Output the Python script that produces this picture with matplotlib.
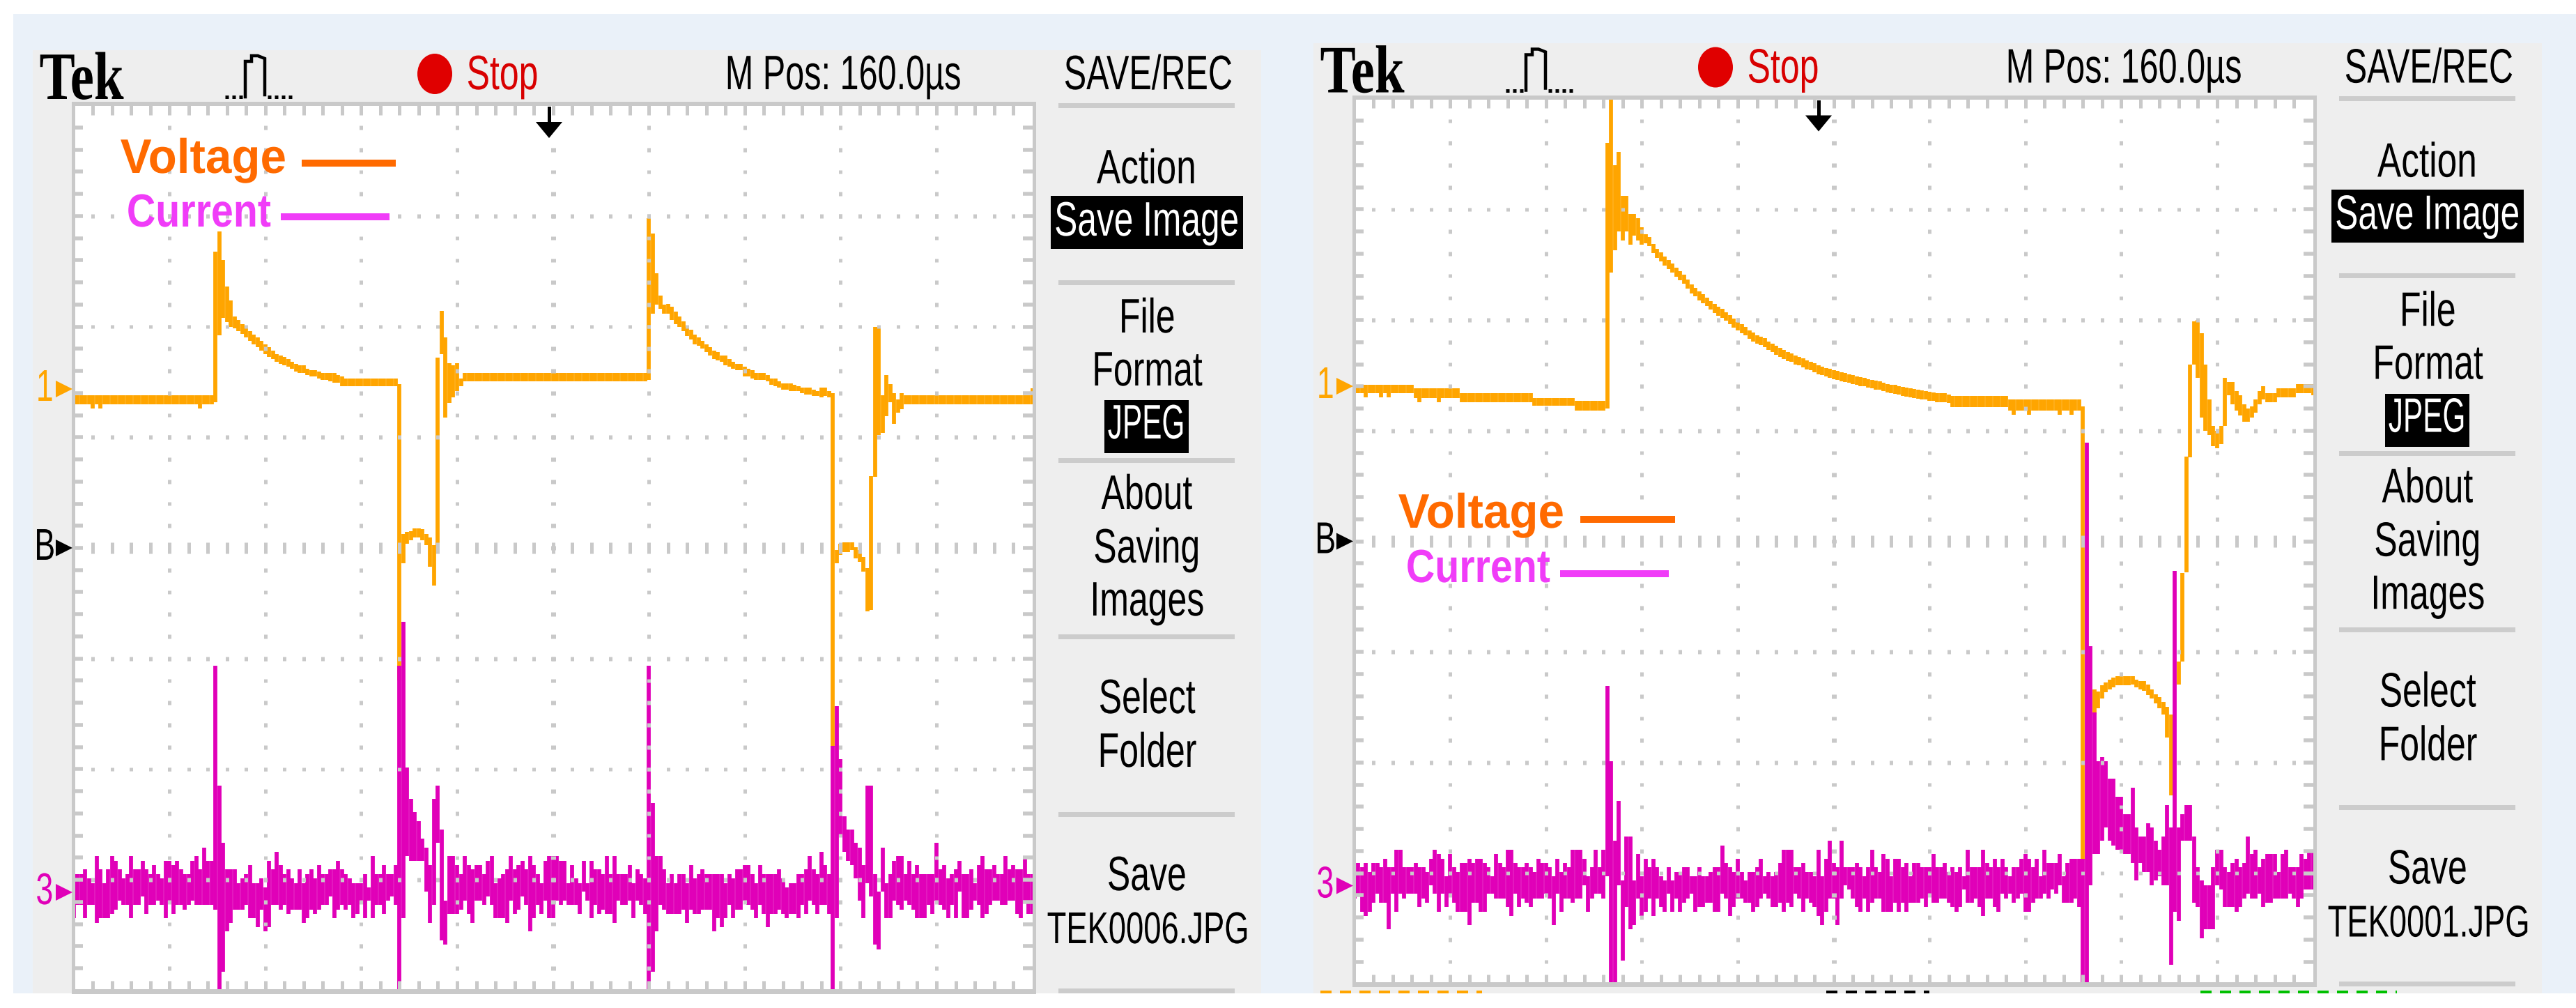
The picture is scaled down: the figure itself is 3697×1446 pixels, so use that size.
import numpy as np
import matplotlib
matplotlib.use("Agg")
import matplotlib.pyplot as plt
import matplotlib.patheffects as pe
from matplotlib.transforms import Affine2D
from matplotlib.patches import Rectangle, Ellipse, Polygon

# Trace data, read column by column from the scope display.
# One column = 1/25 division horizontally, one level = 1/25 division vertically.
# Current values are relative to the channel 3 ground marker.
CUR_L_HI = [4,4,4,5,3,2,8,5,2,5,8,7,5,3,4,8,5,5,7,5,4,6,4,3,7,7,6,7,5,4,4,7,8,5,10,7,7,51,24,11,
 5,5,5,2,3,4,6,2,2,3,1,7,5,9,6,4,5,3,2,5,2,4,5,3,6,4,4,5,5,7,5,4,3,2,2,2,4,1,8,4,
 4,6,4,4,6,51,61,28,21,18,16,12,10,6,21,24,14,-2,8,8,6,4,8,6,5,6,6,4,7,8,2,3,4,5,8,5,6,7,5,8,
 6,4,2,7,8,8,8,7,7,2,6,3,2,7,2,7,5,5,4,8,4,8,4,4,4,6,2,5,4,3,51,20,8,8,5,2,4,2,4,4,
 2,6,3,4,5,4,4,4,4,4,2,4,3,5,5,6,6,4,2,6,4,4,4,4,5,3,1,2,2,4,4,5,8,5,4,9,6,4,33,42,
 30,17,14,14,11,10,6,24,24,4,0,10,2,4,7,8,8,4,7,4,6,4,4,4,4,11,5,6,3,4,5,7,4,4,5,2,6,8,5,5,
 6,4,4,8,5,6,5,5,8,4,4]
CUR_L_LO = [-6,-3,-3,-6,-3,-3,-7,-6,-6,-6,-5,-4,-2,-3,-3,-6,-3,-3,-1,-5,-3,-3,-2,-3,-6,-2,-5,-3,-3,-4,-3,-2,-3,-3,-3,-3,-3,-4,-22,-18,
 -9,-7,-4,-4,-4,-3,-6,-6,-8,-4,-9,-8,-3,-3,-4,-3,-5,-4,-4,-4,-7,-6,-4,-5,-4,-3,-3,-1,-6,-4,-3,-4,-3,-6,-5,-2,-6,-2,-6,-3,
 -3,-5,-2,-1,-3,-22,-6,8,7,7,7,7,0,-7,-3,11,-11,-12,-5,-5,-5,-4,-2,-5,-7,-2,-2,-3,-1,-3,-6,-6,-6,-7,-2,-5,-4,-1,-3,-9,
 -6,-3,-5,-2,-6,-6,-2,-3,-2,-3,-3,-3,-5,0,-2,-6,-3,-5,-4,-5,-5,-7,-2,-3,-3,-2,-6,-2,-3,-5,-22,-18,-9,-3,-4,-5,-5,-5,-5,-4,
 -7,-4,-5,-5,-4,-4,-4,-9,-6,-8,-6,-3,-6,-4,-4,-2,-3,-4,-6,-3,-5,-8,-5,-5,-4,-5,-6,-5,-5,-6,-3,-5,-2,-3,-5,-3,-3,-5,-22,-6,
 13,9,7,6,3,-2,-6,2,-1,-12,-13,0,-6,-6,-2,-3,-4,-2,-3,-4,-6,-6,-6,-3,-5,-2,-3,-4,-6,-3,-6,0,-6,-6,-4,-2,-3,-6,-5,-3,-2,
 -2,-3,-3,-2,-2,-5,-6,-2,-5,-5]

CUR_R_HI = [2,5,4,5,3,5,5,4,6,4,4,8,8,4,4,4,5,4,4,3,6,8,7,6,2,7,4,3,5,5,6,5,6,6,5,4,2,7,5,4,
 8,8,5,4,4,5,4,3,6,5,5,4,2,6,3,5,4,8,8,8,6,2,4,8,4,8,45,28,10,19,1,11,11,1,7,2,6,4,6,4,
 2,1,4,1,3,3,4,4,2,2,4,2,2,3,4,4,9,5,4,3,6,3,1,3,3,4,6,2,3,2,3,5,8,8,8,4,4,5,3,3,
 2,8,2,6,10,5,4,10,4,4,4,5,4,2,4,8,4,3,7,6,2,6,6,4,5,2,5,5,4,4,4,7,4,4,5,3,4,3,4,2,
 8,4,4,4,8,5,4,6,4,6,4,2,4,4,6,7,6,4,6,2,8,5,5,5,7,2,5,6,6,6,6,100,54,39,28,29,28,24,24,20,
 20,16,16,22,13,11,11,14,13,10,8,11,18,13,71,13,16,18,18,11,4,1,0,0,4,8,8,4,3,5,6,4,5,11,7,8,4,6,7,7,
 7,3,7,8,4,4,4,7,6,8,8]
CUR_R_LO = [-3,-2,-6,-7,-6,-4,-2,-4,-4,-10,-2,-6,-2,-3,-2,-2,-2,-5,-3,-4,0,-2,-6,-2,-5,-2,-4,-6,-6,-6,-9,-4,-4,-6,-6,-2,-2,-3,-3,-3,
 -5,-7,-2,-5,-3,-4,-5,-3,-3,-3,-2,-3,-9,-2,-6,-3,-3,-4,-3,-3,0,-6,-3,-2,-2,-3,2,-22,-22,0,-17,-5,-10,-9,-3,-7,-6,-3,-7,-3,
 -5,-6,-2,-6,-3,-6,-4,-3,-2,-6,-5,-5,-4,-4,-6,-6,-2,-3,-7,-5,-3,-3,-4,-4,-6,-5,-3,-2,-3,-5,-5,-4,-6,-4,-5,-2,-3,-6,-3,-4,
 -5,-7,-9,-6,-3,-3,-9,-3,0,-1,-3,-5,-6,-3,-6,-4,-3,-3,-6,-6,-6,-4,-6,-4,-6,-4,-4,-4,-3,-5,-2,-4,-4,-3,-3,-4,-5,-6,-5,-1,
 -4,-4,-3,-5,-7,-3,-3,-5,-6,-2,-3,-2,-4,-3,-2,-6,-6,-4,-3,-3,-2,-3,-1,-2,0,-4,-4,-4,-3,-5,-22,-22,0,7,7,10,13,10,9,8,
 8,7,7,5,1,5,3,3,0,1,2,0,0,-18,-6,-8,10,10,10,-4,-5,-12,-10,-10,-10,0,-1,-5,-5,-5,-6,-5,-3,-2,-3,-3,-2,-5,-4,-4,
 -3,-3,-3,-3,-2,-3,-5,-3,-1,-1,-1]

# Voltage values are levels above the centre of the screen.
VOLT_L_HI = ([34.5]*37 + [67,71.5,65,59,56,52.3,51.5,50.5,49.7,49,48.2,47.5,46.8,46,45.3,44.6,43.8,43.5,43.1,42.7,
 42,41.6,41.3,41.3,40.5,40.2,40.2,39.8,39.5,39.5,39.5,39.5,39,38.7,38.3] + [38.3]*13 +
 [37,3.1,3.7,3.8,4.4,4.4,4.2,3.1,2.4,0.6,43,53.5,47.5,41.7,41.3,41.7,38.3] + [39.5]*48 +
 [74.5,71,62,57,55,55.2,54.5,53.4,52.3,51.2,50,49.3,48.2,47.5,46.8,46,45.3,44.6,44.2,43.5,43.5,42.7,42,41.6,41.6,
  40.9,40.5,40.2,39.5,39.5,39.5,39,38.3,38.3,37.6,37.2,37.2,37.2,36.9,36.5,36.2,36.2,36.2,35.8,35.4,36.2,36.2,35.4,35,
  -0.5,0.9,1.3,1.3,1.3,0.2,-0.5,-2,-4.5,16.3,50,50,34.5,39,37,35,33.6,35,34.5] + [34.5]*32 + [36])
VOLT_L_LO = ([32.5,32.5,32.5,32.5,32.5,31.5,32.5,31.5] + [32.5]*25 + [31.5,32.5,32.5,32.5] +
 [33,48,52,51,50,49.7,49,48.3,47.5,46.8,46,45.3,44.6,43.8,43.1,42.7,42,41.6,41.3,40.9,
 40.5,39.8,39.5,39.5,39,38.7,38.7,38.3,38,38,37.6,37.3,37.3,36.6,36.6] + [36.6]*13 +
 [-30,-3.4,1,1.7,2.4,2.4,1.7,0.6,-4.2,-8.5,0.6,43.8,29.5,32.8,34,35.4,36.6] + [37.7]*48 +
 [38,53,55,54,53,53,51.5,50.5,50,49,47.9,47.1,46,45.7,45,44.2,43.5,42.7,42.4,42,41.3,40.9,40.5,40.2,40.2,
  38.7,38.7,38.3,38,38,38,37.6,36.9,36.6,36.2,35.8,35.8,35.4,35.4,35.4,35,34.7,34.7,34.3,34.3,34,34.3,34,-45,
  -3.5,-1.6,-0.9,-0.9,-0.5,-2.4,-3.1,-5.3,-14.4,-14,16,25.5,26,29.8,33,28,30.5,31.3,32.5] + [32.5]*32 + [32.5])

VOLT_R_HI = ([35.4]*16 + [34.6]*12 + [33.4]*19 + [32.4]*11 + [31.7]*8 +
 [90,100,85,88,78,78,74,74,73,71,69.4,68.7,67.2,66.1,65.3,64.3,63.5,62.8,61.8,61,60.2,59.1,58,57.3,56.5,55.8,55.1,54.3,53.6,53,
  52.5,51.8,51.1,50.3,49.6,49.1,48.5,47.7,47.2,46.6,46.3,45.9,45.2,44.7,44.2,43.7,43.2,42.8,42.5,42,41.7,41.3,40.9,40.6,40.2,39.8,39.5,39.2,39,38.7,
  38.5,38.2,38,37.8,37.5,37.3,37.1,37,36.7,36.5,36.3,36.2,35.9,35.6,35.4,35.3,35.1,34.9,34.7,34.5,34.4,34.2,34.1,34,33.8,33.7,33.5,33.4,33.4,33.2] +
 [32.9]*15 + [32]*19 + [30.5,100,54.0,-33.4,-34,-32.6,-31.9,-31.2,-30.8,-30.5,-30.5,-30.5,-30.5,-30.5,-31.2,-31.6,-31.6,-32.3,-33.4,-34.5,-35.2,-36.3,-37.4,-39.2,
 -32,-27.2,-7.1,19.2,40,49.7,50,47,40,32,26,25,26,37,36,36,34,33,31,30,30.5,32,34,35,33.5,33.5,33.5,34.5,34.5,34.5,34.5,34.5,35.5,35.5,35.5,35.5,35.5])
VOLT_R_LO = ([33.5,33.5,33.5,32.5,33.5,33.5,33.5,32.5,33.5,32.5,33.5,33.5,33.5,33.5,33.5,33.5] + [32.4,31.4,32.4,32.4,32.4,32.4,31.4,32.4,32.4,32.4,32.4,32.4] +
 [31.5]*19 + [30.6]*11 + [29.5]*8 +
 [30,60.7,65.8,70,68,70,67,69,68,67,67.4,66.7,65.2,64.1,63.3,62.3,61.5,60.8,59.8,59,58.2,57.1,56,55.3,54.5,53.8,53.1,52.3,51.6,51,
  50.5,49.8,49.1,48.3,47.6,47.1,46.5,45.7,45.2,44.6,44.3,43.9,43.2,42.7,42.2,41.7,41.2,40.8,40.5,40,39.7,39.3,38.9,38.6,38.2,37.8,37.5,37.2,37,36.7,
  36.5,36.2,36,35.8,35.5,35.3,35.1,35,34.7,34.5,34.3,34.2,33.9,33.6,33.4,33.3,33.1,32.9,32.7,32.5,32.4,32.2,32.1,32,31.8,31.7,31.5,31.4,31.4,31.2] +
 [30.4]*15 + [29.6,28.6,29.6,29.6,29.6,28.6,29.6,29.6,29.6,29.6,29.6,29.6,29.6,28.6,29.6,29.6,28.6,29.6,29.6] +
 [-72,100,54.0,-39.2,-37.8,-35.6,-34.1,-33.4,-33,-32.6,-32.6,-32.6,-32.6,-32.3,-33,-33.4,-33.8,-34.8,-35.6,-36.7,-37.8,-39.2,-44.3,-57.4,
 -32,-32.3,-27.2,-7,19,40,37,28,25,24,21.5,21,22,26,33,31,29.5,28.5,27,27,28,29,31,32,31.5,31.5,31.5,32.5,32.5,32.5,32.5,32.5,33.5,33.5,33.5,33.5,33])

MENU_TOP = "SAVE/REC"
MENU_ITEMS = ["Action", "File", "Format", "About", "Saving", "Images", "Select", "Folder", "Save"]
FILE_NAMES = ["TEK0006.JPG", "TEK0001.JPG"]
POSITION = "M Pos: 160.0µs"

W, H = 3697, 1446
DPI = 100
PX = 72 / DPI
SANS = ["Liberation Sans", "DejaVu Sans"]
BLUE, PANEL, GRID = "#EAF1F9", "#EEEEEE", "#C9C9C9"
ORANGE, MAGENTA = "#FFA500", "#E000B8"
LEG_V, LEG_C = "#FF6A00", "#F03CF8"


class Squeeze(pe.AbstractPathEffect):
    """Draw a text narrower about its centre, like the scope's tall bitmap font."""
    def __init__(self, sx):
        super().__init__()
        self.sx = sx

    def draw_path(self, renderer, gc, tpath, affine, rgbFace=None):
        ext = tpath.get_extents()
        cx = (ext.x0 + ext.x1) / 2
        aff = Affine2D().translate(-cx, 0).scale(self.sx, 1).translate(cx, 0) + affine
        renderer.draw_path(gc, tpath, aff, rgbFace)


fig = plt.figure(figsize=(W / DPI, H / DPI), dpi=DPI, facecolor="white")
bg = fig.add_axes([0, 0, 1, 1], zorder=0)
bg.set_xlim(0, W); bg.set_ylim(H, 0); bg.axis("off")
top = fig.add_axes([0, 0, 1, 1], zorder=5)
top.set_xlim(0, W); top.set_ylim(H, 0); top.axis("off"); top.patch.set_alpha(0)


def box(a, x0, y0, x1, y1, c, z=1):
    a.add_patch(Rectangle((x0, y0), x1 - x0, y1 - y0, fc=c, ec="none", zorder=z))


def label(x, y, s, sx=0.72, fontsize=50, color="black", family=SANS, weight="normal", va="baseline"):
    t = top.text(x, y, s, ha="center", va=va, family=family, weight=weight, fontsize=fontsize, color=color, zorder=6)
    t.set_path_effects([Squeeze(sx)])
    return t


box(bg, 19, 20, W, 1425, BLUE)


def panel(dx, dy, gray_top, fname, arrow_x, ch1_y, hi_v, lo_v, hi_c, lo_c, leg):
    box(bg, 47 + dx, gray_top, 1810 + dx, 1425, PANEL, 2)
    x0, x1 = 105.6 + dx, 1481.6 + dx
    y0, y1 = 151.2 + dy, 1420.8 + dy
    box(bg, x0, y0, x1, y1, "white", 3)
    # frame
    box(top, x0 - 3, y0 - 5, x1 + 5, y0 + 1, GRID)
    box(top, x0 - 3, y1 - 2, x1 + 5, y1 + 5, GRID)
    box(top, x0 - 3, y0 - 5, x0 + 2, y1 + 5, GRID)
    box(top, x1, y0 - 5, x1 + 5, y1 + 5, GRID)

    ax = fig.add_axes([x0 / W, 1 - y1 / H, (x1 - x0) / W, (y1 - y0) / H], zorder=4)
    ax.set_xlim(0, 250); ax.set_ylim(-100, 100); ax.axis("off"); ax.patch.set_alpha(0)
    cols = np.arange(251)
    lw = 5.8 * PX
    ln = ax.vlines(cols, lo_v, hi_v, color=ORANGE, lw=lw, zorder=2); ln.set_capstyle("butt")
    GROUND = -77.7
    ln = ax.vlines(cols, np.array(lo_c) + GROUND, np.array(hi_c) + GROUND, color=MAGENTA, lw=lw, zorder=3)
    ln.set_capstyle("butt")

    # graticule: 10 x 8 divisions, 5 minor marks per division
    ex, ey = 2.4, 2.1
    def seg_v(x, a, b, w):
        ln = ax.vlines(x, a, b, color=GRID, lw=w * PX, zorder=4); ln.set_capstyle("butt")
    def seg_h(y, a, b, w):
        ln = ax.hlines(y, a, b, color=GRID, lw=w * PX, zorder=4); ln.set_capstyle("butt")
    for k in range(1, 50):
        x = k * 5
        seg_v(x, 100 - ey, 100, 5)
        seg_v(x, -100, -100 + ey, 5)
        seg_v(x, -1.3, 1.3, 5)
        for r in (-75, -50, -25, 25, 50, 75):
            seg_v(x, r - 0.45, r + 0.45, 5)
    for k in range(1, 40):
        y = -100 + k * 5
        seg_h(y, 0, ex, 5.5)
        seg_h(y, 250 - ex, 250, 5.5)
        for c in (25, 50, 75, 100, 150, 175, 200, 225):
            seg_v(c, y - 0.45, y + 0.45, 5)
        seg_v(125, y - 0.45, y + 0.45, 7)

    # status bar
    label(117 + dx, 142 + dy, "Tek", sx=0.79, fontsize=70, family=["Liberation Serif", "DejaVu Serif"], weight="bold")
    top.plot([323 + dx, 350 + dx], [139 + dy, 139 + dy], color="black", lw=5 * PX, ls=(0, (1, 1)))
    top.plot([352 + dx, 352 + dx, 361 + dx, 361 + dx, 370 + dx, 380 + dx, 380 + dx],
             [139 + dy, 88 + dy, 88 + dy, 80 + dy, 80 + dy, 84 + dy, 136 + dy],
             color="black", lw=4.5 * PX, solid_joinstyle="miter")
    top.plot([384 + dx, 422 + dx], [139 + dy, 139 + dy], color="black", lw=5 * PX, ls=(0, (1, 1)))
    top.add_patch(Ellipse((624 + dx, 106 + dy), 50, 58, fc="#E00000", ec="none"))
    label(721 + dx, 128 + dy, "Stop", color="#D80000")
    label(1210 + dx, 128 + dy, POSITION, sx=0.70)

    # side menu
    menu_x = 1646 + dx
    label(1648 + dx, 128 + dy, MENU_TOP, sx=0.70)
    for yy in (151, 405, 660, 913, 1168, 1421):
        box(top, 1519 + dx, yy - 3.5 + dy, 1772 + dx, yy + 3.5 + dy, "#CCCCCC")
    label(menu_x, 263 + dy, MENU_ITEMS[0], sx=0.74)
    box(top, 1508 + dx, 281 + dy, 1784 + dx, 357 + dy, "black")
    label(menu_x, 338 + dy, "Save Image", sx=0.715, color="white")
    label(menu_x, 477 + dy, MENU_ITEMS[1])
    label(menu_x, 553 + dy, MENU_ITEMS[2])
    box(top, 1585 + dx, 574 + dy, 1706 + dx, 650 + dy, "black")
    label(menu_x, 629 + dy, "JPEG", sx=0.61, color="white")
    label(menu_x, 730 + dy, MENU_ITEMS[3])
    label(menu_x, 807 + dy, MENU_ITEMS[4])
    label(menu_x, 883 + dy, MENU_ITEMS[5])
    label(menu_x, 1023 + dy, MENU_ITEMS[6])
    label(menu_x, 1100 + dy, MENU_ITEMS[7])
    label(menu_x, 1277 + dy, MENU_ITEMS[8])
    label(1648 + dx, 1353 + dy, fname, sx=0.71, fontsize=46)

    # trigger arrow
    top.plot([arrow_x, arrow_x], [155 + dy, 180 + dy], color="black", lw=5 * PX)
    top.add_patch(Polygon([(arrow_x - 19, 175 + dy), (arrow_x + 19, 175 + dy), (arrow_x, 198 + dy)],
                          fc="black", ec="none"))

    # channel markers
    for s, y, c in (("1", ch1_y, ORANGE), ("B", 786 + dy, "black"), ("3", 1280 + dy, MAGENTA)):
        label(64 + dx, y, s, sx=0.7, fontsize=46, color=c, va="center")
        top.add_patch(Polygon([(80 + dx, y - 12), (104 + dx, y), (80 + dx, y + 12)], fc=c, ec="none"))

    # legend
    vx, vy, vl0, vl1, vly, cx, cy, cl0, cl1, cly = leg
    label(vx, vy, "Voltage", sx=0.97, fontsize=50, color=LEG_V, weight="bold")
    top.plot([vl0, vl1], [vly, vly], color=LEG_V, lw=10 * PX, solid_capstyle="butt")
    label(cx, cy, "Current", sx=0.86, fontsize=48, color=LEG_C, weight="bold")
    top.plot([cl0, cl1], [cly, cly], color=LEG_C, lw=10 * PX, solid_capstyle="butt")


panel(0, 0, 72, FILE_NAMES[0], 788, 558, VOLT_L_HI, VOLT_L_LO, CUR_L_HI, CUR_L_LO,
      (292, 248, 433, 568, 234, 285, 325, 403, 559, 311))
panel(1838, -9.5, 62, FILE_NAMES[1], 2610, 554, VOLT_R_HI, VOLT_R_LO, CUR_R_HI, CUR_R_LO,
      (2126, 757, 2268, 2404, 745, 2121, 835, 2239, 2395, 823))

# tops of the readout line that the crop cuts off under the right-hand screen
for (a, b, c) in ((1895, 2127, ORANGE), (2621, 2769, "black"), (3158, 3440, "#00C000")):
    top.plot([a, b], [1423, 1423], color=c, lw=4 * PX, ls=(0, (4, 3)), solid_capstyle="butt")

fig.savefig("out.png", dpi=DPI, facecolor="white")
